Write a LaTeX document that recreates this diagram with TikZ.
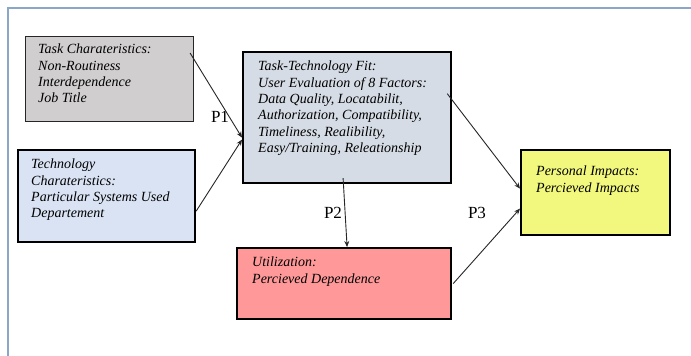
\documentclass[tikz,border=0pt]{standalone}
\usepackage{fontspec}
\setmainfont{Liberation Serif}
\usetikzlibrary{arrows.meta,calc}
\definecolor{framec}{HTML}{8AA6C8}
\definecolor{taskc}{HTML}{D0CECE}
\definecolor{techc}{HTML}{DAE3F3}
\definecolor{ttfc}{HTML}{D6DCE5}
\definecolor{utilc}{HTML}{FF9999}
\definecolor{persc}{HTML}{F2F77E}
\tikzset{
  box/.style={draw=black, line width=2.2pt, anchor=north west, inner sep=0pt},
  thinbox/.style={draw=black!85, line width=1.1pt, anchor=north west, inner sep=0pt},
  txt/.style={anchor=north west, inner sep=0pt, align=left, font=\fontsize{14}{16.3}\selectfont\itshape},
  plabel/.style={inner sep=0pt, font=\fontsize{17}{19}\selectfont},
  arr/.style={draw=black!85, line width=0.9pt, -{Stealth[length=6pt,width=5pt]}}
}
\begin{document}
\begin{tikzpicture}[x=1pt,y=-1pt]
\useasboundingbox (0,0) rectangle (691,356);
\fill[white] (0,0) rectangle (691,356);
\draw[framec, line width=2pt] (8,360) -- (8,8) -- (695,8);

\node[thinbox, fill=taskc, minimum width=168pt, minimum height=85pt] (task) at (25,36) {};
\node[box, fill=techc, minimum width=177pt, minimum height=92pt] (tech) at (17,149) {};
\node[box, fill=ttfc, minimum width=208pt, minimum height=131pt] (ttf) at (242,51) {};
\node[box, fill=utilc, minimum width=214pt, minimum height=71pt] (util) at (236,247) {};
\node[box, fill=persc, minimum width=149pt, minimum height=85pt] (pers) at (520,149) {};

\node[txt] (tasktxt) at (38,44) {Task Charateristics:\\Non-Routiness\\Interdependence\\Job Title};
\node[txt] (techtxt) at (31,159) {Technology\\Charateristics:\\Particular Systems Used\\Departement};
\node[txt] (ttftxt) at (258,61) {Task-Technology Fit:\\User Evaluation of 8 Factors:\\Data Quality, Locatabilit,\\Authorization, Compatibility,\\Timeliness, Realibility,\\Easy/Training, Releationship};
\node[txt] (utiltxt) at (252,257) {Utilization:\\Percieved Dependence};
\node[txt] (perstxt) at (536,166) {Personal Impacts:\\Percieved Impacts};

\node[plabel] (p1) at (220,117) {P1};
\node[plabel] (p2) at (333,213) {P2};
\node[plabel] (p3) at (477,213) {P3};

\draw[arr] ($(task.north east)+(-4,17)$) -- ($(ttf.west)+(0,20)$);
\draw[arr] ($(tech.east)+(0,15)$) -- ($(ttf.west)+(0,22)$);
\draw[arr] ($(ttf.south)+(-4,-6)$) -- ($(util.north)+(3,0)$);
\draw[arr] ($(ttf.east)+(-5,-24)$) -- ($(pers.west)+(0,-4)$);
\draw[arr] ($(util.east)+(1,0)$) -- ($(pers.west)+(0,16)$);
\end{tikzpicture}
\end{document}
